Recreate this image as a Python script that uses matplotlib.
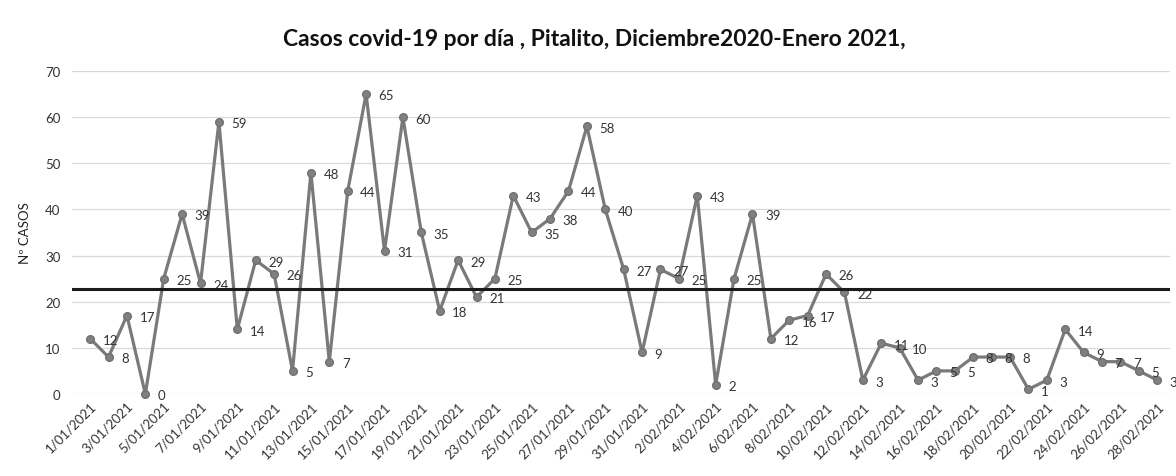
import numpy as np
import pandas as pd
import matplotlib
matplotlib.use("Agg")
import matplotlib.pyplot as plt

plt.rcParams['font.family'] = ['Lato', 'DejaVu Sans']

# daily cases, 1/01/2021 .. 28/02/2021
jan_cases = [12, 8, 17, 0, 25, 39, 24, 59, 14, 29, 26, 5, 48, 7, 44, 65, 31, 60,
             35, 18, 29, 21, 25, 43, 35, 38, 44, 58, 40, 27, 9]
feb_cases = [27, 25, 43, 2, 25, 39, 12, 16, 17, 26, 22, 3, 11, 10, 3, 5, 5, 8,
             8, 8, 1, 3, 14, 9, 7, 7, 5, 3]
ref_level = 22.8

dates = pd.date_range("2021-01-01", "2021-02-28", freq="D")
casos = jan_cases + feb_cases
labels = [f"{d.day}/{d.month:02d}/{d.year}" for d in dates]

x = np.arange(len(casos))

fig = plt.figure(figsize=(11.76, 4.77), dpi=100)
ax = fig.add_axes([0.061, 0.172, 0.934, 0.677])

ax.plot(x, casos, color='#7a7a7a', lw=2.3, marker='o', ms=5.5,
        markerfacecolor='#808080', markeredgecolor='#707070', zorder=3, clip_on=False)
ax.axhline(ref_level, color='#1a1a1a', lw=2.2, zorder=4)

for xi, v in zip(x, casos):
    ax.annotate(str(v), (xi, v), xytext=(9, -1), textcoords='offset points',
                fontsize=9.5, color='#333333', va='center', ha='left')

ax.set_xlim(-1, 58.7)
ax.set_ylim(0, 70)
ax.set_yticks(np.arange(0, 71, 10))
ax.set_xticks(x[::2])
ax.set_xticklabels(labels[::2], rotation=45, ha='right', rotation_mode='anchor',
                   fontsize=9.5, color='#333333')
ax.tick_params(axis='y', labelsize=9.5, labelcolor='#333333', length=0, pad=8)
ax.tick_params(axis='x', length=0, pad=4)
ax.grid(axis='y', color='#d9d9d9', lw=0.9)
ax.set_axisbelow(True)
for s in ax.spines.values():
    s.set_visible(False)

ax.set_ylabel('Nº CASOS', fontsize=9.5, color='#222222', labelpad=10)
fig.suptitle('Casos covid-19 por día , Pitalito, Diciembre2020-Enero 2021,',
             fontsize=16.5, fontweight='bold', x=0.505, y=0.94, color='#111111')

fig.savefig("out.png", dpi=100)
